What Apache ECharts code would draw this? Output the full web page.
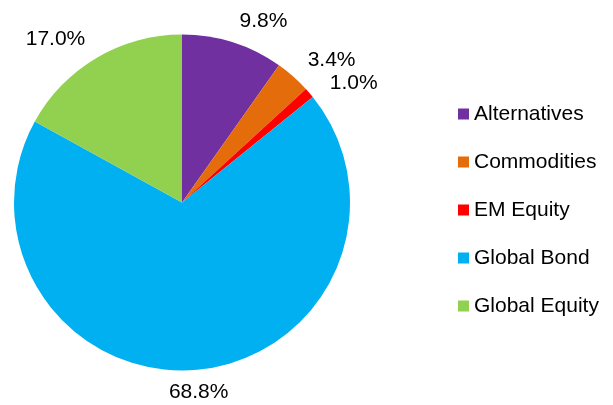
<!DOCTYPE html>
<html>
<head>
<meta charset="utf-8">
<script src="https://cdn.jsdelivr.net/npm/echarts@6/dist/echarts.min.js"></script>
<style>html,body{margin:0;padding:0;background:#fff}#c{width:613px;height:405px}</style>
</head>
<body>
<div id="c"></div>
<script>
var categories = ['Alternatives', 'Commodities', 'EM Equity', 'Global Bond', 'Global Equity'];
var values = [9.8, 3.4, 1.0, 68.8, 17.0];
var colors = ['#7030A0', '#E46C0A', '#FF0000', '#00B0F0', '#92D050'];

var chart = echarts.init(document.getElementById('c'), null, {renderer: 'canvas'});
var data = categories.map(function (n, i) {
  return {name: n, value: values[i], itemStyle: {color: colors[i]}};
});
chart.setOption({
  animation: false,
  textStyle: {fontFamily: '"Liberation Sans", Arial, sans-serif'},
  legend: {
    orient: 'vertical',
    left: 453,
    top: 97,
    itemWidth: 11,
    itemHeight: 11,
    itemGap: 24,
    icon: 'rect',
    textStyle: {fontSize: 21, lineHeight: 24, color: '#000', fontFamily: '"Liberation Sans", Arial, sans-serif'},
    data: categories
  },
  series: [{
    type: 'pie',
    center: [182, 202.5],
    radius: 168,
    startAngle: 90,
    clockwise: true,
    avoidLabelOverlap: true,
    itemStyle: {borderWidth: 0},
    emphasis: {disabled: true},
    label: {
      show: true,
      position: 'outside',
      distanceToLabelLine: 0,
      fontSize: 21,
      color: '#000',
      fontFamily: '"Liberation Sans", Arial, sans-serif',
      formatter: function (p) { return p.value.toFixed(1) + '%'; }
    },
    labelLine: {show: false, length: 22, length2: 0},
    labelLayout: function (p) {
      var pts = p.labelLinePoints;
      if (!pts) return {};
      var vx = pts[1][0] - pts[0][0], vy = pts[1][1] - pts[0][1];
      var n = Math.sqrt(vx * vx + vy * vy) || 1;
      if (Math.abs(vx / n) < 0.2) {
        return {dx: (vx >= 0 ? -1 : 1) * p.labelRect.width / 2};
      }
      return {};
    },
    data: data
  }]
});
</script>
</body>
</html>
